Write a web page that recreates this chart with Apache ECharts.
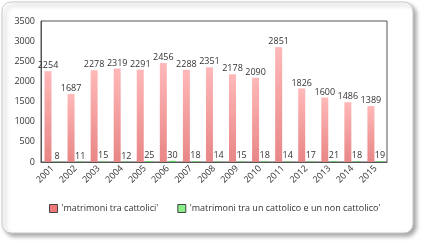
<!DOCTYPE html>
<html><head><meta charset="utf-8">
<script src="https://cdn.jsdelivr.net/npm/echarts@6/dist/echarts.min.js"></script>
<style>html,body{margin:0;padding:0;background:#fff;}#c{width:423px;height:247px;}</style>
</head><body><div id="c"></div>
<script>
var categories = ['2001','2002','2003','2004','2005','2006','2007','2008','2009','2010','2011','2012','2013','2014','2015'];
var cattolici = [2254,1687,2278,2319,2291,2456,2288,2351,2178,2090,2851,1826,1600,1486,1389];
var misti = [8,11,15,12,25,30,18,14,15,18,14,17,21,18,19];
var seriesNames = ["'matrimoni tra cattolici'", "'matrimoni tra un cattolico e un non cattolico'"];
var yTicks = {min:0, max:3500, interval:500};

var chart = echarts.init(document.getElementById('c'), null, {renderer:'canvas'});
var font = 'Open Sans';
chart.setOption({
  animation:false,
  textStyle:{fontFamily:font},
  graphic:[{
    type:'rect', shape:{x:2,y:2,width:411,height:231,r:9},
    style:{fill:'#fff',stroke:'#c8c8c8',lineWidth:1,shadowBlur:4,shadowOffsetX:3,shadowOffsetY:3,shadowColor:'rgba(0,0,0,0.35)'},
    z:-10
  }],
  grid:{left:41,top:21,right:36,bottom:85,show:true,borderColor:'#555',borderWidth:1,backgroundColor:'transparent'},
  legend:{
    left:49, top:204, padding:0, width:380, itemWidth:8, itemHeight:8, itemGap:19,
    textStyle:{fontFamily:font,fontSize:9,color:'#333',padding:[0,0,0,-1]},
    data:[{name:seriesNames[0],icon:'rect',itemStyle:{color:'#f07878',borderColor:'#444',borderWidth:1}},
          {name:seriesNames[1],icon:'rect',itemStyle:{color:'#88ee88',borderColor:'#444',borderWidth:1}}]
  },
  xAxis:{type:'category',data:categories,
    axisLine:{show:true,lineStyle:{color:'#555'}},axisTick:{show:false},
    axisLabel:{rotate:45,fontSize:9,color:'#333',margin:5,interval:0}},
  yAxis:{type:'value',min:yTicks.min,max:yTicks.max,interval:yTicks.interval,
    axisLine:{show:true,lineStyle:{color:'#555'}},axisTick:{show:false},splitLine:{show:false},
    axisLabel:{fontSize:9,color:'#333',margin:6,formatter:function(v){return String(v);}}},
  series:[{
    name:seriesNames[0],type:'bar',data:cattolici,barWidth:7,barGap:'30%',
    itemStyle:{color:new echarts.graphic.LinearGradient(0,0,0,1,[{offset:0,color:'#ffb8b8'},{offset:1,color:'#e88686'}])},
    label:{show:true,position:'top',fontSize:9,color:'#333',distance:1}
  },{
    name:seriesNames[1],type:'bar',data:misti,barWidth:7,
    itemStyle:{color:'#66cc66'},
    label:{show:true,position:'top',fontSize:9,color:'#333',distance:1}
  }]
});
</script></body></html>
